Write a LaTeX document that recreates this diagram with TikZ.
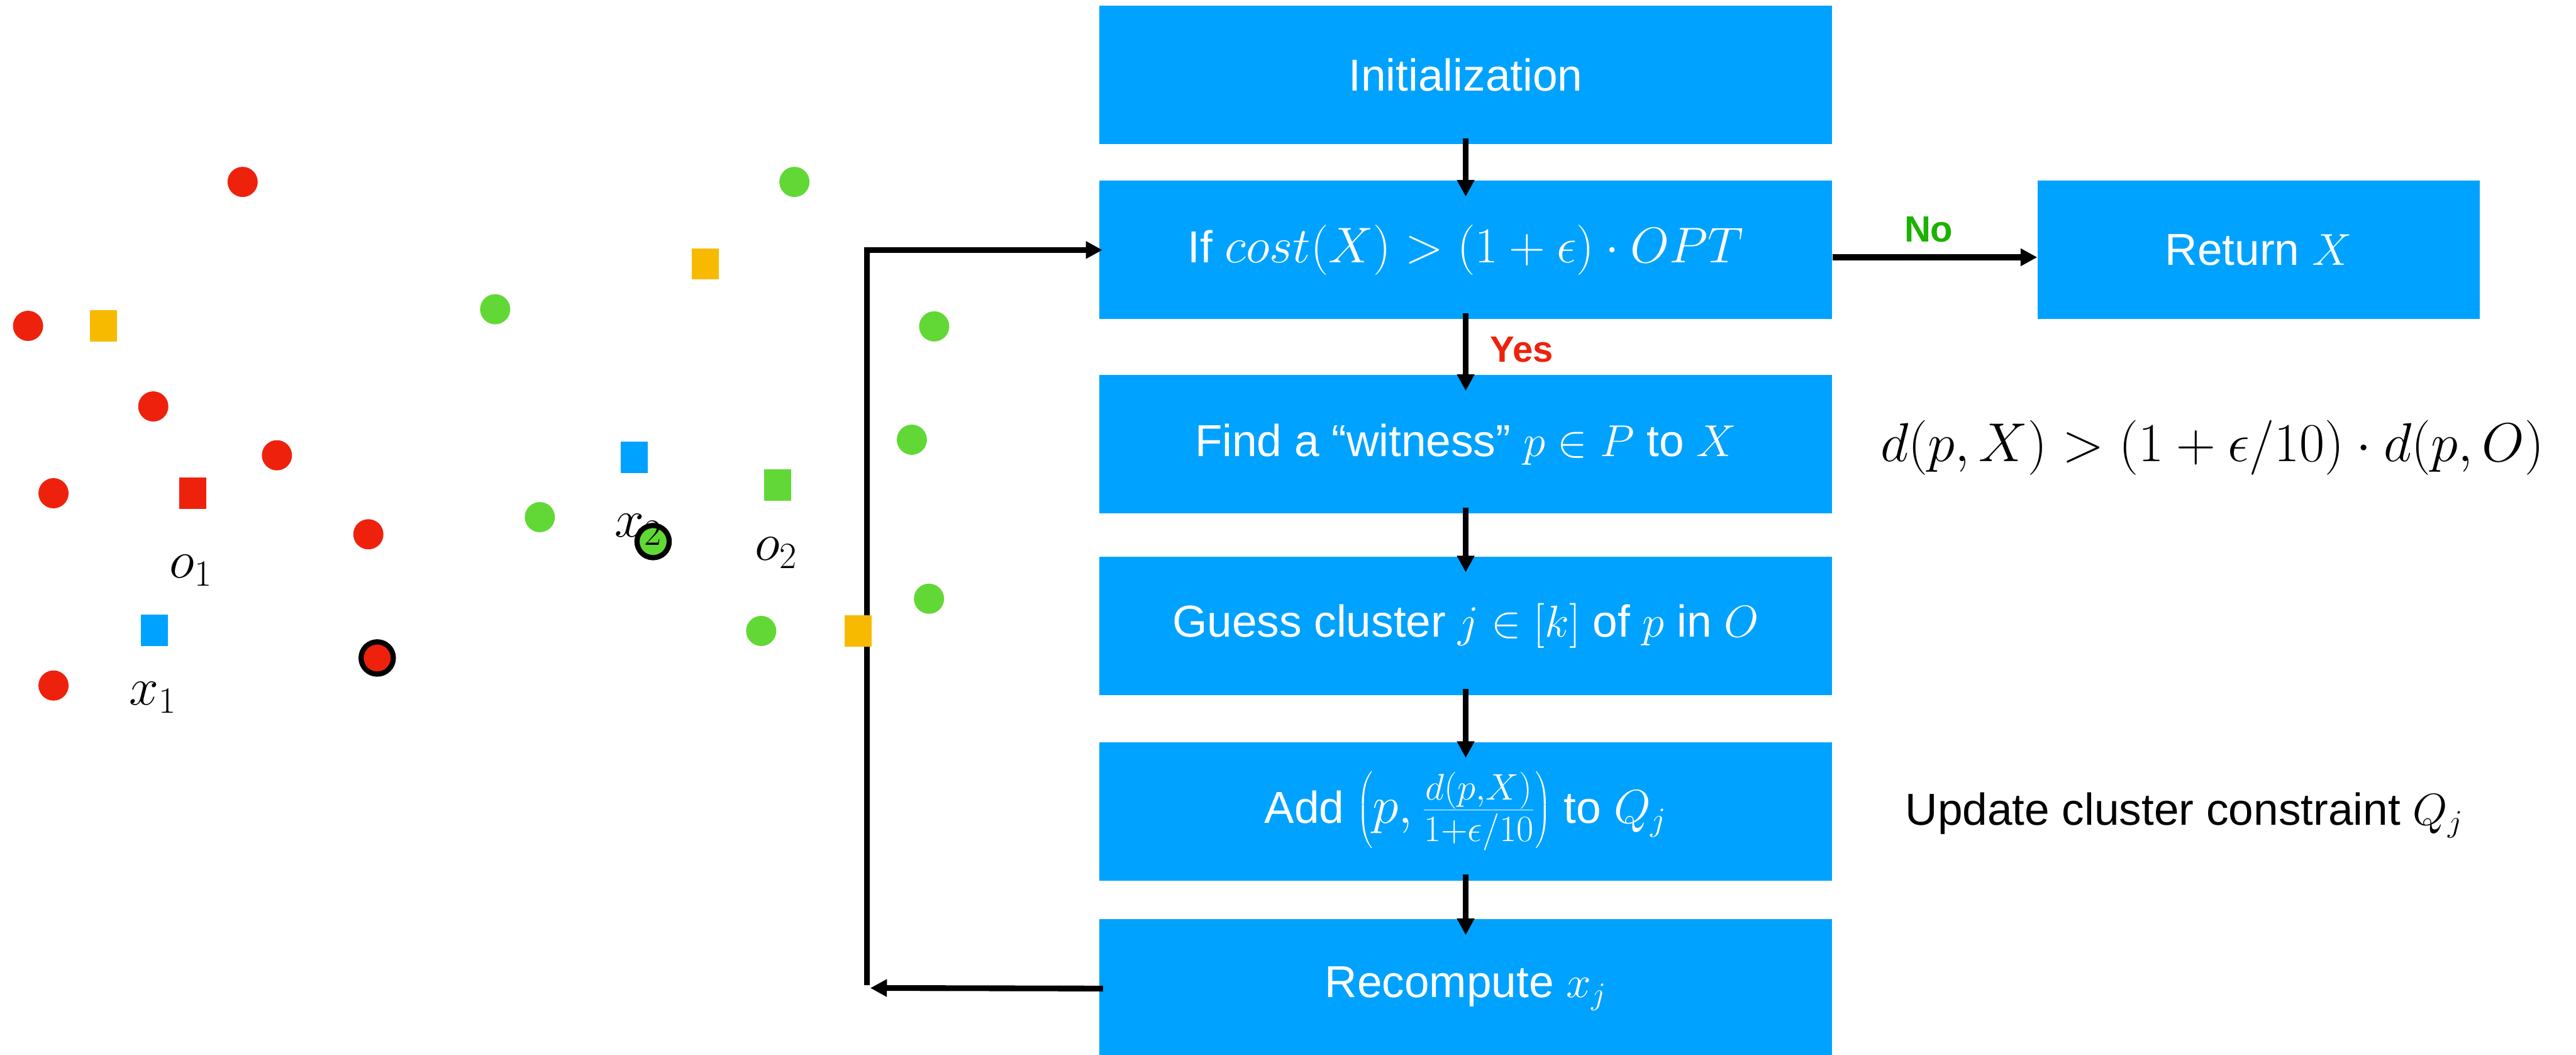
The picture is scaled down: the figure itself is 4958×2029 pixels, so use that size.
\RequirePackage{fix-cm}
\documentclass[tikz,border=0pt]{standalone}
\usepackage{fontspec}
\setmainfont{Liberation Sans}
\usetikzlibrary{arrows.meta,calc}
\definecolor{kblue}{RGB}{0,162,255}
\definecolor{kred}{RGB}{238,34,12}
\definecolor{kgreen}{RGB}{97,216,54}
\definecolor{kyellow}{RGB}{248,186,0}
\definecolor{kdkgreen}{RGB}{29,177,0}
\newcommand\bigmath[2]{{\fontsize{#1}{#1}\selectfont$#2$}}
\tikzset{
  stepbox/.style={fill=kblue, text=white, minimum width=14.1cm, minimum height=2.66cm, inner sep=0pt, font=\fontsize{24.5}{29}\selectfont},
  arr/.style={draw=black, line width=0.11cm, -{Triangle[length=0.32cm,width=0.32cm]}},
  lbl/.style={font=\fontsize{20}{24}\selectfont\bfseries},
  ptlabel/.style={inner sep=0pt, font=\fontsize{29}{32}\selectfont},
  ring/.style={draw=black, line width=0.1cm}
}
\begin{document}
\begin{tikzpicture}[x=0.01cm,y=-0.01cm]
\useasboundingbox (0,0) rectangle (4958,2029);

% flow boxes
\node[stepbox] (b1) at (2821,144) {Initialization};
\node[stepbox] (b2) at (2821,481) {If \bigmath{27.5}{cost(X) > (1+\epsilon)\cdot OPT}};
\node[stepbox] (b3) at (2821,855) {Find a “witness” $p\in P$ to $X$};
\node[stepbox] (b4) at (2821,1204) {Guess cluster $j\in[k]$ of $p$ in $O$};
\node[stepbox] (b5) at (2821,1561) {Add \bigmath{29}{\left(p,\frac{d(p,X)}{1+\epsilon/10}\right)} to \bigmath{26}{Q_j}};
\node[stepbox] (b6) at (2821,1902) {Recompute $x_j$};
\node[stepbox, minimum width=8.5cm] (ret) at (4347,481) {Return $X$};

% side texts
\node[font=\fontsize{30}{36}\selectfont] (cond) at (4258,862) {$d(p,X) > (1+\epsilon/10)\cdot d(p,O)$};
\node[font=\fontsize{24.5}{29}\selectfont] (upd) at (4204,1569) {Update cluster constraint $Q_j$};

% connectors
\draw[arr, shorten <=-0.12cm, shorten >=-0.31cm] (b1) -- (b2);
\draw[arr, shorten <=-0.12cm, shorten >=-0.31cm] (b2) -- node[lbl, text=kred, right=0.3cm, pos=0.55] (yes) {Yes} (b3);
\draw[arr, shorten <=-0.12cm, shorten >=-0.31cm] (b3) -- (b4);
\draw[arr, shorten <=-0.12cm, shorten >=-0.31cm] (b4) -- (b5);
\draw[arr, shorten <=-0.12cm, shorten >=-0.31cm] (b5) -- (b6);
\draw[arr] ([yshift=-0.14cm]b2.east) -- node[lbl, text=kdkgreen, above=0.12cm, xshift=-0.12cm] (no) {No} ([yshift=-0.14cm]ret.west);
\coordinate (lb) at (1675,1901);
\coordinate (lv) at (1669,1896);
\draw[arr, shorten <=-0.08cm] (b6.west) -- (lb);
\draw[arr, shorten >=-0.07cm] (lv) |- (b2.west);

% scatter points
\foreach \x/\y in {467/350, 54/627, 295/782, 533/876, 103/949, 709/1028, 103/1319}
  \fill[kred] (\x,\y) circle (0.29cm);
\foreach \x/\y in {1529/350, 953/595, 1039/995, 1465/1214, 1798/628, 1755/846, 1788/1152}
  \fill[kgreen] (\x,\y) circle (0.29cm);
\filldraw[fill=kred, ring] (726,1266) circle (0.31cm);
\filldraw[fill=kgreen, ring] (1257,1042) circle (0.31cm);
\foreach \x/\y in {199/627, 1357/508, 1652/1214}
  \fill[kyellow] (\x,\y) +(-26,-30) rectangle +(26,30);
\foreach \x/\y in {297/1213, 1221/880}
  \fill[kblue] (\x,\y) +(-26,-30) rectangle +(26,30);
\fill[kred] (371,949) +(-26,-30) rectangle +(26,30);
\fill[kgreen] (1497,933) +(-26,-30) rectangle +(26,30);

% point labels
\node[ptlabel] (o1) at (368,1098) {$o_1$};
\node[ptlabel] (x1) at (294,1342) {$x_1$};
\node[ptlabel] (x2) at (1229,1019) {$x_2$};
\node[ptlabel] (o2) at (1494,1064) {$o_2$};
\end{tikzpicture}
\end{document}
